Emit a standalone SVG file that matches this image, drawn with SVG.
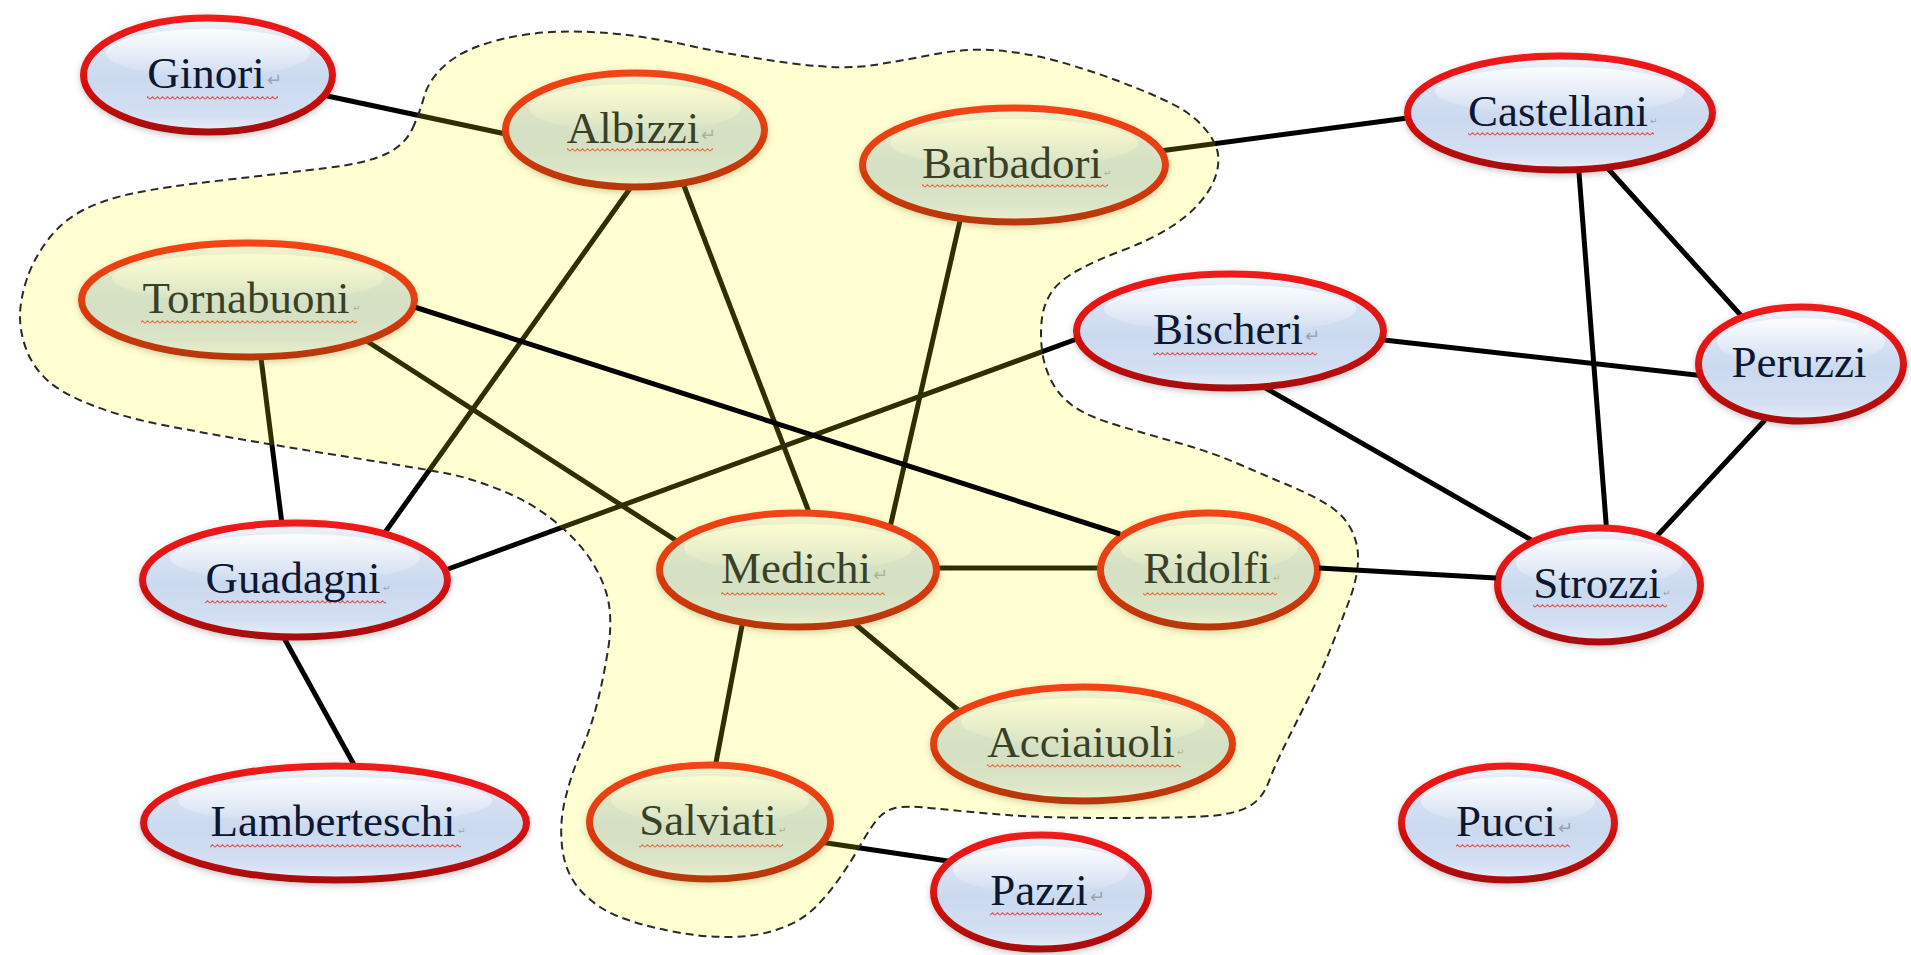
<svg xmlns="http://www.w3.org/2000/svg" width="1911" height="955" viewBox="0 0 1911 955">
  <defs>
    <linearGradient id="bodyFill" x1="0" y1="0" x2="0" y2="1">
      <stop offset="0" stop-color="#f2f6fc"/>
      <stop offset="0.18" stop-color="#dbe5f4"/>
      <stop offset="0.55" stop-color="#cbd9ef"/>
      <stop offset="0.85" stop-color="#d3dff2"/>
      <stop offset="1" stop-color="#e8eef8"/>
    </linearGradient>
    <linearGradient id="rimStroke" x1="0" y1="0" x2="0" y2="1">
      <stop offset="0" stop-color="#f01a1a"/>
      <stop offset="0.5" stop-color="#dc1212"/>
      <stop offset="1" stop-color="#a80c0c"/>
    </linearGradient>
    <linearGradient id="gloss" x1="0" y1="0" x2="0" y2="1">
      <stop offset="0" stop-color="#ffffff" stop-opacity="0.85"/>
      <stop offset="1" stop-color="#ffffff" stop-opacity="0"/>
    </linearGradient>
    <pattern id="squiggle" width="5" height="4" patternUnits="userSpaceOnUse">
      <path d="M0,3.2 L2.5,0.8 L5,3.2" fill="none" stroke="#e05050" stroke-width="1.1"/>
    </pattern>
    <filter id="shadow" x="-10%" y="-20%" width="120%" height="145%">
      <feDropShadow dx="0" dy="2" stdDeviation="3" flood-color="#555555" flood-opacity="0.35"/>
    </filter>
    <!-- outline of the highlighted cluster -->
    <path id="cluster-shape" d="M412.5,128.5 Q420,112 424,97 Q428,82 441.5,68.5 Q455,55 477.5,46.5 Q500,38 530,34 Q560,30 600,32.5 Q640,35 691,46 Q742,57 793,63.5 Q844,70 874.5,65 Q905,60 936,54 Q967,48 997.5,50.5 Q1028,53 1058.5,61.5 Q1089,70 1119.5,81.5 Q1150,93 1170.5,103 Q1191,113 1203,126.5 Q1215,140 1217.5,151.5 Q1220,163 1215.5,176.5 Q1211,190 1199,203.5 Q1187,217 1168.5,228.5 Q1150,240 1123.5,250 Q1097,260 1078.5,270 Q1060,280 1052,291.5 Q1044,303 1042,318 Q1040,333 1042,350 Q1044,367 1052,382 Q1060,397 1074.5,407 Q1089,417 1119.5,426 Q1150,435 1180.5,443.5 Q1211,452 1241,465 Q1271,478 1291.5,486.5 Q1312,495 1328,505 Q1344,515 1351.5,530 Q1359,545 1358,562.5 Q1357,580 1348.5,602.5 Q1340,625 1330,650 Q1320,675 1307.5,700 Q1295,725 1285,745 Q1275,765 1268.5,782.5 Q1262,800 1247,807.5 Q1232,815 1201.5,816.5 Q1171,818 1109.5,818 Q1048,818 1007.5,815 Q967,812 936,808.5 Q905,805 893.5,808.5 Q882,812 874,823.5 Q866,835 859,847.5 Q852,860 840,877.5 Q828,895 814,908.5 Q800,922 777.5,929.5 Q755,937 727.5,937 Q700,937 670,931 Q640,925 618.5,916.5 Q597,908 581.5,891.5 Q566,875 562.5,850 Q559,825 565,800 Q571,775 581.5,750 Q592,725 598,700 Q604,675 608,650 Q612,625 609,605 Q606,585 593,563.5 Q580,542 555.5,522 Q531,502 500.5,490 Q470,478 449.5,474 Q429,470 398,465 Q367,460 326.5,453.5 Q286,447 245,440 Q204,433 163,425 Q122,417 91.5,405 Q61,393 47,380 Q33,367 26.5,350 Q20,333 20,316.5 Q20,300 26.5,280 Q33,260 47,241 Q61,222 81.5,211 Q102,200 132.5,193.5 Q163,187 224.5,180 Q286,173 326.5,168 Q367,163 386,154 Q405,145 412.5,128.5 Z"/>
  </defs>
  <style>
    .edge { stroke: #000000; stroke-width: 5; stroke-linecap: butt; fill: none; }
    .body { fill: url(#bodyFill); stroke: url(#rimStroke); stroke-width: 7; filter: url(#shadow); }
    .gloss { fill: url(#gloss); }
    .squig { fill: url(#squiggle); }
    .label { font-family: "Liberation Serif", "Times New Roman", serif; font-size: 45px; fill: #0e1630; text-anchor: middle; }
    .mark { font-family: "DejaVu Sans", sans-serif; fill: #9aa4b0; }
    .mark.big { font-size: 18px; }
    .mark.small { font-size: 9px; }
    .zone { fill: #ffff00; fill-opacity: 0.18; stroke: none; }
    .zone-edge { fill: none; stroke: #2a2a2a; stroke-width: 2; stroke-dasharray: 8 5; }
  </style>

  <rect width="1911" height="955" fill="#ffffff"/>

  <!-- ties between families -->
  <g id="connectors">
    <line class="edge" x1="318" y1="94" x2="520" y2="137"/>
    <line class="edge" x1="636" y1="180" x2="381" y2="538"/>
    <line class="edge" x1="681" y1="178" x2="812" y2="520"/>
    <line class="edge" x1="962" y1="212" x2="889" y2="532"/>
    <line class="edge" x1="1160" y1="151" x2="1415" y2="117"/>
    <line class="edge" x1="260" y1="350" x2="283" y2="532"/>
    <line class="edge" x1="362" y1="338" x2="680" y2="543"/>
    <line class="edge" x1="1085" y1="336" x2="440" y2="572"/>
    <line class="edge" x1="1375" y1="339" x2="1705" y2="376"/>
    <line class="edge" x1="1262" y1="386" x2="1540" y2="545"/>
    <line class="edge" x1="1602" y1="162" x2="1746" y2="321"/>
    <line class="edge" x1="1578" y1="160" x2="1607" y2="535"/>
    <line class="edge" x1="1765" y1="420" x2="1656" y2="537"/>
    <line class="edge" x1="278" y1="627" x2="358" y2="772"/>
    <line class="edge" x1="930" y1="568" x2="1107" y2="568"/>
    <line class="edge" x1="744" y1="615" x2="714" y2="773"/>
    <line class="edge" x1="855" y1="624" x2="964" y2="715"/>
    <line class="edge" x1="820" y1="842" x2="968" y2="864"/>
  </g>

  <g id="node-ginori">
    <ellipse class="body" cx="208" cy="75" rx="124.5" ry="57"/>
    <ellipse class="gloss" cx="208" cy="53" rx="102" ry="24"/>
    <rect class="squig" x="147" y="96" width="131" height="4"/>
    <text class="label" x="206" y="88">Ginori</text>
    <text class="mark big" x="267" y="86">↵</text>
  </g>
  <g id="node-albizzi">
    <ellipse class="body" cx="635" cy="130" rx="129.5" ry="57"/>
    <ellipse class="gloss" cx="635" cy="108" rx="106" ry="24"/>
    <rect class="squig" x="567" y="148" width="146" height="4"/>
    <text class="label" x="633" y="143">Albizzi</text>
    <text class="mark big" x="701" y="141">↵</text>
  </g>
  <g id="node-barbadori">
    <ellipse class="body" cx="1014" cy="165" rx="151.5" ry="57"/>
    <ellipse class="gloss" cx="1014" cy="143" rx="124" ry="24"/>
    <rect class="squig" x="922" y="184" width="186" height="4"/>
    <text class="label" x="1012" y="178">Barbadori</text>
    <text class="mark small" x="1104" y="176">↵</text>
  </g>
  <g id="node-castellani">
    <ellipse class="body" cx="1560" cy="113" rx="152.5" ry="57"/>
    <ellipse class="gloss" cx="1560" cy="91" rx="125" ry="24"/>
    <rect class="squig" x="1468" y="132" width="186" height="4"/>
    <text class="label" x="1558" y="126">Castellani</text>
    <text class="mark small" x="1650" y="124">↵</text>
  </g>
  <g id="node-tornabuoni">
    <ellipse class="body" cx="248" cy="300" rx="166.5" ry="57"/>
    <ellipse class="gloss" cx="248" cy="278" rx="136" ry="24"/>
    <rect class="squig" x="141" y="320" width="216" height="4"/>
    <text class="label" x="246" y="313">Tornabuoni</text>
    <text class="mark small" x="353" y="311">↵</text>
  </g>
  <g id="node-bischeri">
    <ellipse class="body" cx="1230" cy="331" rx="153.5" ry="57"/>
    <ellipse class="gloss" cx="1230" cy="309" rx="126" ry="24"/>
    <rect class="squig" x="1153" y="352" width="164" height="4"/>
    <text class="label" x="1228" y="344">Bischeri</text>
    <text class="mark big" x="1305" y="342">↵</text>
  </g>
  <g id="node-peruzzi">
    <ellipse class="body" cx="1801" cy="364" rx="102.5" ry="57"/>
    <ellipse class="gloss" cx="1801" cy="342" rx="84" ry="24"/>
    <text class="label" x="1799" y="377">Peruzzi</text>
  </g>
  <g id="node-guadagni">
    <ellipse class="body" cx="295" cy="580" rx="152.5" ry="57"/>
    <ellipse class="gloss" cx="295" cy="558" rx="125" ry="24"/>
    <rect class="squig" x="205" y="600" width="181" height="4"/>
    <text class="label" x="293" y="593">Guadagni</text>
    <text class="mark small" x="383" y="591">↵</text>
  </g>
  <g id="node-medichi">
    <ellipse class="body" cx="798" cy="570" rx="138.5" ry="57"/>
    <ellipse class="gloss" cx="798" cy="548" rx="114" ry="24"/>
    <rect class="squig" x="721" y="592" width="164" height="4"/>
    <text class="label" x="796" y="583">Medichi</text>
    <text class="mark big" x="873" y="581">↵</text>
  </g>
  <g id="node-ridolfi">
    <ellipse class="body" cx="1209" cy="570" rx="108.5" ry="57"/>
    <ellipse class="gloss" cx="1209" cy="548" rx="89" ry="24"/>
    <rect class="squig" x="1143" y="592" width="134" height="4"/>
    <text class="label" x="1207" y="583">Ridolfi</text>
    <text class="mark small" x="1273" y="581">↵</text>
  </g>
  <g id="node-strozzi">
    <ellipse class="body" cx="1599" cy="585" rx="101.5" ry="57"/>
    <ellipse class="gloss" cx="1599" cy="563" rx="83" ry="24"/>
    <rect class="squig" x="1533" y="604" width="134" height="4"/>
    <text class="label" x="1597" y="598">Strozzi</text>
    <text class="mark small" x="1663" y="596">↵</text>
  </g>
  <g id="node-acciaiuoli">
    <ellipse class="body" cx="1083" cy="744" rx="149.5" ry="57"/>
    <ellipse class="gloss" cx="1083" cy="722" rx="122" ry="24"/>
    <rect class="squig" x="987" y="764" width="194" height="4"/>
    <text class="label" x="1081" y="757">Acciaiuoli</text>
    <text class="mark small" x="1177" y="755">↵</text>
  </g>
  <g id="node-lamberteschi">
    <ellipse class="body" cx="335" cy="823" rx="191.5" ry="57"/>
    <ellipse class="gloss" cx="335" cy="801" rx="157" ry="24"/>
    <rect class="squig" x="210" y="844" width="251" height="4"/>
    <text class="label" x="333" y="836">Lamberteschi</text>
    <text class="mark small" x="458" y="834">↵</text>
  </g>
  <g id="node-salviati">
    <ellipse class="body" cx="710" cy="822" rx="120.5" ry="57"/>
    <ellipse class="gloss" cx="710" cy="800" rx="99" ry="24"/>
    <rect class="squig" x="639" y="844" width="144" height="4"/>
    <text class="label" x="708" y="835">Salviati</text>
    <text class="mark small" x="779" y="833">↵</text>
  </g>
  <g id="node-pazzi">
    <ellipse class="body" cx="1041" cy="892" rx="107.5" ry="57"/>
    <ellipse class="gloss" cx="1041" cy="870" rx="88" ry="24"/>
    <rect class="squig" x="990" y="912" width="112" height="4"/>
    <text class="label" x="1039" y="905">Pazzi</text>
    <text class="mark big" x="1090" y="903">↵</text>
  </g>
  <g id="node-pucci">
    <ellipse class="body" cx="1508" cy="823" rx="106.5" ry="57"/>
    <ellipse class="gloss" cx="1508" cy="801" rx="87" ry="24"/>
    <rect class="squig" x="1456" y="844" width="114" height="4"/>
    <text class="label" x="1506" y="836">Pucci</text>
    <text class="mark big" x="1558" y="834">↵</text>
  </g>

  <!-- highlighted cluster: translucent wash with dashed outline -->
  <g id="cluster">
    <use href="#cluster-shape" class="zone"/>
    <use href="#cluster-shape" class="zone-edge"/>
  </g>

  <!-- ties drawn over the wash -->
  <g id="connectors-front">
    <line class="edge" x1="416" y1="307.5" x2="1120" y2="534"/>
    <line class="edge" x1="1319" y1="568" x2="1496" y2="578"/>
  </g>
</svg>
